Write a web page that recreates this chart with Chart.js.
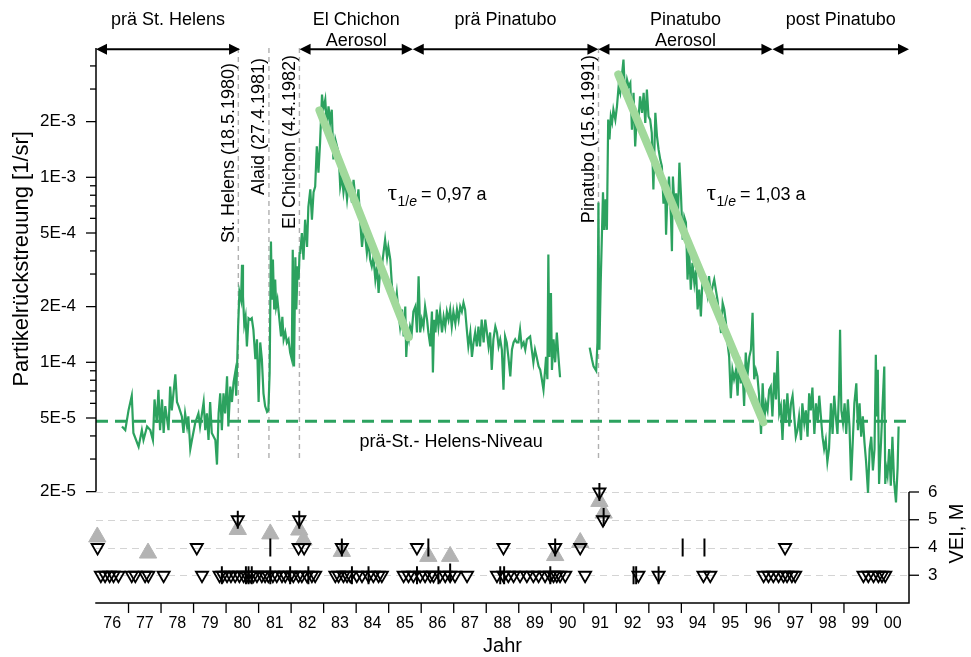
<!DOCTYPE html>
<html>
<head>
<meta charset="utf-8">
<script src="https://cdn.jsdelivr.net/npm/chart.js@4/dist/chart.umd.min.js"></script>
<style>
  html, body { margin: 0; padding: 0; background: #fff; }
  canvas { display: block; }
</style>
</head>
<body>
<canvas id="chart" width="971" height="657"></canvas>
<script>
// Partikelrückstreuung (Jahr, Wert in 1/sr), nach Perioden getrennt
const praeStHelens = [
  [1976.80,4.5e-5],[1976.90,4.3e-5],[1977.00,5.5e-5],[1977.10,6.6e-5],[1977.15,4.15e-5],[1977.31,3.5e-5],
  [1977.41,4.3e-5],[1977.46,3.8e-5],[1977.57,4.5e-5],[1977.67,4.3e-5],[1977.75,3.8e-5],[1977.80,6.3e-5],
  [1977.87,4.7e-5],[1977.92,7.1e-5],[1977.97,4.3e-5],[1978.03,6.3e-5],[1978.08,4.15e-5],[1978.13,5.8e-5],
  [1978.23,4.3e-5],[1978.28,7.4e-5],[1978.33,5.5e-5],[1978.44,8.6e-5],[1978.49,6.1e-5],[1978.54,5.8e-5],
  [1978.64,5.1e-5],[1978.69,4.15e-5],[1978.74,5.3e-5],[1978.80,4.5e-5],[1978.84,5.1e-5],[1978.90,3.4e-5],
  [1978.95,3.8e-5],[1979.05,4.7e-5],[1979.15,5.3e-5],[1979.20,4.5e-5],[1979.31,6.1e-5],[1979.36,4.3e-5],
  [1979.41,5.3e-5],[1979.46,3.8e-5],[1979.51,6.1e-5],[1979.56,4.15e-5],[1979.67,3.8e-5],[1979.72,2.8e-5],
  [1979.77,5.3e-5],[1979.82,6.8e-5],[1979.87,4.3e-5],[1979.92,6.8e-5],[1979.97,5.3e-5],[1980.03,8.4e-5],
  [1980.07,4.5e-5],[1980.13,7.4e-5],[1980.18,6.1e-5],[1980.23,7.8e-5],[1980.28,8.8e-5],[1980.31,6.6e-5],
  [1980.34,9.7e-5]
];
const stHelensAlaid = [
  [1980.37,1.55e-4],[1980.41,2.4e-4],[1980.46,2.18e-4],[1980.49,3.37e-4],[1980.52,2.27e-4],[1980.56,1.6e-4],
  [1980.60,1.76e-4],[1980.64,1.22e-4],[1980.69,1.73e-4],[1980.74,1.70e-4],[1980.79,1.73e-4],[1980.84,1.50e-4],
  [1980.90,1.04e-4],[1980.95,1.33e-4],[1981.00,6.1e-5],[1981.05,1.28e-4],[1981.10,1.04e-4],[1981.15,6.8e-5],
  [1981.20,5.8e-5],[1981.26,5.4e-5],[1981.30,5.5e-5],[1981.34,8.8e-5],[1981.38,4.5e-4],[1981.41,2.18e-4],
  [1981.44,3.59e-4],[1981.48,1.93e-4],[1981.51,2.8e-4],[1981.54,2.0e-4],[1981.58,2.18e-4],[1981.64,1.70e-4],
  [1981.69,1.38e-4],[1981.73,1.76e-4],[1981.77,1.33e-4],[1981.82,1.45e-4],[1981.87,1.28e-4],[1981.92,1.33e-4],
  [1981.97,1.13e-4],[1982.02,1.04e-4],[1982.05,4.06e-4],[1982.09,9.5e-5],[1982.13,3.7e-4],[1982.16,1.93e-4],
  [1982.20,3.3e-4],[1982.23,2.8e-4],[1982.26,3.9e-4]
];
const elChichon = [
  [1982.28,3.9e-4],[1982.33,5.0e-4],[1982.38,3.59e-4],[1982.43,5.9e-4],[1982.49,4.2e-4],[1982.53,6.9e-4],
  [1982.59,8.6e-4],[1982.64,5.9e-4],[1982.69,8.3e-4],[1982.74,8.9e-4],[1982.79,1.47e-3],[1982.84,1.06e-3],
  [1982.89,1.54e-3],[1982.95,2.8e-3],[1982.99,2.32e-3],[1983.05,2.63e-3],[1983.10,1.89e-3],[1983.15,2.42e-3],
  [1983.20,1.98e-3],[1983.25,2.32e-3],[1983.30,1.25e-3],[1983.36,1.60e-3],[1983.41,1.47e-3],[1983.46,1.36e-3],
  [1983.51,8.9e-4],[1983.56,1.01e-3],[1983.61,8.3e-4],[1983.66,9.7e-4],[1983.72,7.6e-4],[1983.76,8.9e-4],
  [1983.82,8.6e-4],[1983.87,7.3e-4],[1983.92,9.7e-4],[1983.97,7.9e-4],[1984.02,7.0e-4],[1984.07,8.6e-4],
  [1984.12,5.9e-4],[1984.18,4.2e-4],[1984.23,5.2e-4],[1984.28,4.8e-4],[1984.33,3.9e-4],[1984.38,4.6e-4],
  [1984.43,3.59e-4],[1984.48,3.3e-4],[1984.53,3.7e-4],[1984.59,2.8e-4],[1984.64,3.3e-4],[1984.69,2.37e-4],
  [1984.74,3.17e-4],[1984.79,3.3e-4],[1984.84,3.9e-4],[1984.89,4.6e-4],[1984.95,3.7e-4],[1984.99,4.2e-4],
  [1985.05,3.59e-4],[1985.10,2.6e-4],[1985.15,2.18e-4],[1985.20,2.0e-4],[1985.25,2.37e-4],[1985.30,1.88e-4],
  [1985.35,1.56e-4],[1985.41,1.93e-4],[1985.46,1.38e-4],[1985.51,2.0e-4],[1985.54,1.07e-4],[1985.58,1.45e-4],
  [1985.62,1.33e-4]
];
const praePinatubo = [
  [1985.66,1.56e-4],[1985.71,1.45e-4],[1985.76,1.88e-4],[1985.82,2.0e-4],[1985.87,1.45e-4],[1985.92,2.92e-4],
  [1985.97,1.45e-4],[1986.02,1.70e-4],[1986.07,1.56e-4],[1986.12,2.0e-4],[1986.18,1.70e-4],[1986.22,1.45e-4],
  [1986.28,1.22e-4],[1986.33,1.88e-4],[1986.36,8.8e-5],[1986.40,1.70e-4],[1986.44,1.45e-4],[1986.48,1.93e-4],
  [1986.53,1.56e-4],[1986.58,1.88e-4],[1986.64,1.45e-4],[1986.69,1.76e-4],[1986.74,1.56e-4],[1986.79,1.88e-4],
  [1986.84,1.70e-4],[1986.89,1.93e-4],[1986.94,1.56e-4],[1986.99,1.88e-4],[1987.05,1.62e-4],[1987.10,1.93e-4],
  [1987.15,1.70e-4],[1987.20,2.0e-4],[1987.25,1.88e-4],[1987.30,2.1e-4],[1987.35,1.93e-4],[1987.41,1.45e-4],
  [1987.45,1.22e-4],[1987.51,1.45e-4],[1987.56,1.07e-4],[1987.61,1.28e-4],[1987.66,1.45e-4],[1987.71,1.22e-4],
  [1987.76,1.56e-4],[1987.81,1.22e-4],[1987.86,1.7e-4],[1987.92,1.28e-4],[1987.97,1.70e-4],[1988.02,1.45e-4],
  [1988.07,1.22e-4],[1988.12,1.45e-4],[1988.17,9.1e-5],[1988.22,1.33e-4],[1988.28,1.56e-4],[1988.33,1.45e-4],
  [1988.38,1.22e-4],[1988.43,1.33e-4],[1988.48,1.17e-4],[1988.53,7.1e-5],[1988.58,1.38e-4],[1988.63,1.28e-4],
  [1988.68,1.07e-4],[1988.74,8.4e-5],[1988.79,1.17e-4],[1988.84,1.28e-4],[1988.89,1.33e-4],[1988.94,1.28e-4],
  [1988.99,1.28e-4],[1989.04,1.50e-4],[1989.09,1.22e-4],[1989.15,1.28e-4],[1989.20,1.17e-4],[1989.25,1.33e-4],
  [1989.35,1.38e-4],[1989.40,1.17e-4],[1989.45,1.0e-4],[1989.50,1.17e-4],[1989.55,1.07e-4],[1989.61,9.5e-5],
  [1989.66,9.1e-5],[1989.71,8.1e-5],[1989.76,7.1e-5],[1989.81,9.1e-5],[1989.84,1.07e-4],[1989.88,8.1e-5],
  [1989.91,3.82e-4],[1989.94,1.07e-4],[1989.99,2.37e-4],[1990.02,9.1e-5],[1990.07,1.33e-4],[1990.12,1.0e-4],
  [1990.17,1.45e-4],[1990.22,1.07e-4],[1990.27,8.3e-5]
];
const pinatubo = [
  [1991.18,1.2e-4],[1991.25,1.04e-4],[1991.30,9.5e-5],[1991.38,9.0e-5],[1991.42,1.28e-4],[1991.45,7.3e-4],
  [1991.48,1.17e-4],[1991.52,2.7e-4],[1991.59,8.3e-4],[1991.63,5.2e-4],[1991.67,7.6e-4],[1991.71,5.2e-4],
  [1991.75,2.05e-3],[1991.79,1.60e-3],[1991.83,2.13e-3],[1991.87,1.98e-3],[1991.91,2.32e-3],[1991.97,2.05e-3],
  [1992.02,2.42e-3],[1992.07,3.10e-3],[1992.12,2.86e-3],[1992.17,3.51e-3],[1992.22,4.33e-3],[1992.27,2.74e-3],
  [1992.33,3.37e-3],[1992.38,3.10e-3],[1992.43,3.24e-3],[1992.48,1.81e-3],[1992.53,2.86e-3],[1992.58,1.47e-3],
  [1992.63,2.13e-3],[1992.68,2.05e-3],[1992.73,2.74e-3],[1992.79,2.23e-3],[1992.84,2.86e-3],[1992.89,1.97e-3],
  [1992.94,2.98e-3],[1992.99,2.13e-3],[1993.04,2.05e-3],[1993.09,1.74e-3],[1993.14,8.6e-4],[1993.20,2.23e-3],
  [1993.25,1.67e-3],[1993.30,1.41e-3],[1993.35,1.25e-3],[1993.40,1.15e-3],[1993.45,7.2e-4],[1993.50,9.3e-4],
  [1993.53,4.9e-4],[1993.57,7.9e-4],[1993.62,1.01e-3],[1993.68,6.1e-4],[1993.71,3.99e-4],[1993.74,1.01e-3],
  [1993.79,6.9e-4],[1993.84,8.2e-4],[1993.89,5.7e-4],[1993.94,1.20e-3],[1993.99,7.9e-4],[1994.04,4.6e-4],
  [1994.09,6.1e-4],[1994.14,5.7e-4],[1994.19,2.8e-4],[1994.24,4.06e-4],[1994.29,2.47e-4],[1994.34,3.45e-4],
  [1994.40,2.67e-4],[1994.45,3.17e-4],[1994.50,1.93e-4],[1994.55,2.47e-4],[1994.60,1.77e-4],[1994.65,2.8e-4],
  [1994.70,2.67e-4],[1994.75,2.8e-4],[1994.80,2.36e-4],[1994.85,2.92e-4],[1994.91,2.27e-4],[1994.96,2.58e-4],
  [1995.01,2.8e-4],[1995.06,2.47e-4],[1995.11,2.18e-4],[1995.16,1.77e-4],[1995.22,1.44e-4],[1995.27,2.09e-4],
  [1995.32,1.93e-4],[1995.37,1.64e-4],[1995.42,1.27e-4],[1995.47,1.07e-4],[1995.52,6.4e-5],[1995.57,9.1e-5],
  [1995.62,8.1e-5],[1995.68,9.1e-5],[1995.73,6.6e-5],[1995.78,1.07e-4],[1995.83,7.7e-5],[1995.88,9.1e-5],
  [1995.93,5.8e-5],[1995.98,1.13e-4],[1996.03,8.4e-5],[1996.09,1.07e-4],[1996.14,1.17e-4],[1996.19,1.85e-4],
  [1996.24,8.1e-5],[1996.29,9.1e-5],[1996.34,8.4e-5],[1996.39,6.6e-5],[1996.45,4.1e-5],[1996.50,7.7e-5],
  [1996.55,4.9e-5]
];
const postPinatubo = [
  [1996.60,6.0e-5],[1996.65,5.5e-5],[1996.70,7.1e-5],[1996.75,7.4e-5],[1996.80,5.1e-5],[1996.86,8.8e-5],
  [1996.91,6.3e-5],[1996.96,1.15e-4],[1997.01,5.3e-5],[1997.06,5.8e-5],[1997.11,3.8e-5],[1997.16,6.3e-5],
  [1997.21,4.7e-5],[1997.26,6.8e-5],[1997.32,4.5e-5],[1997.37,6.0e-5],[1997.42,6.6e-5],[1997.47,5.1e-5],
  [1997.52,3.96e-5],[1997.57,4.3e-5],[1997.62,5.1e-5],[1997.68,3.8e-5],[1997.72,6.0e-5],[1997.78,4.7e-5],
  [1997.83,5.5e-5],[1997.88,3.96e-5],[1997.93,6.8e-5],[1997.98,5.5e-5],[1998.03,7.3e-5],[1998.09,4.1e-5],
  [1998.14,6.0e-5],[1998.19,4.7e-5],[1998.24,6.6e-5],[1998.29,5.1e-5],[1998.34,3.96e-5],[1998.39,3.4e-5],
  [1998.44,3.8e-5],[1998.49,2.9e-5],[1998.54,3.4e-5],[1998.60,6.0e-5],[1998.65,4.1e-5],[1998.70,6.6e-5],
  [1998.75,5.1e-5],[1998.80,4.1e-5],[1998.85,7.1e-5],[1998.88,1.50e-4],[1998.92,5.5e-5],[1998.97,4.7e-5],
  [1999.02,6.0e-5],[1999.07,4.1e-5],[1999.12,6.3e-5],[1999.17,4.5e-5],[1999.22,2.3e-5],[1999.27,3.7e-5],
  [1999.32,6.0e-5],[1999.38,7.7e-5],[1999.43,4.3e-5],[1999.48,6.0e-5],[1999.53,3.96e-5],[1999.58,5.1e-5],
  [1999.63,3.7e-5],[1999.68,2.9e-5],[1999.74,1.97e-5],[1999.79,3.4e-5],[1999.84,3.96e-5],[1999.89,2.6e-5],
  [1999.94,3.4e-5],[1999.98,1.10e-4],[2000.01,5.1e-5],[2000.04,9.1e-5],[2000.08,2.2e-5],[2000.11,2.9e-5],
  [2000.14,3.7e-5],[2000.18,5.5e-5],[2000.24,9.5e-5],[2000.27,2.2e-5],[2000.30,2.7e-5],[2000.34,2.45e-5],
  [2000.39,3.4e-5],[2000.44,2.15e-5],[2000.49,3.96e-5],[2000.54,2.3e-5],[2000.60,1.75e-5],[2000.65,2.7e-5],
  [2000.68,4.5e-5]
];

// Niveau vor dem Ausbruch des St. Helens
const niveau = 4.8e-5;

// Exponentieller Abfall nach El Chichon und Pinatubo
const tauWerte      = [0.97, 1.03];
const fitStartJahr  = [1982.87, 1992.06];
const fitStartWert  = [2.3e-3, 3.6e-3];
const fitEndJahr    = [1985.61, 1996.52];

// Vulkanausbrüche nach VEI-Stufe (Jahr)
const vei3Jahre = [1976.15,1976.28,1976.42,1976.54,1976.69,1977.10,1977.21,1977.51,1977.61,1978.08,1979.26,
  1979.80,1979.90,1980.03,1980.15,1980.28,1980.41,1980.54,1980.64,1980.74,1980.84,1980.95,1981.10,1981.20,
  1981.30,1981.44,1981.56,1981.72,1981.82,1981.97,1982.07,1982.23,1982.33,1982.49,1982.64,1982.74,1983.36,
  1983.46,1983.61,1983.72,1983.82,1984.02,1984.18,1984.38,1984.53,1984.69,1984.79,1985.46,1985.61,1985.76,
  1985.97,1986.12,1986.28,1986.38,1986.58,1986.74,1986.89,1987.04,1987.41,1988.33,1988.53,1988.68,1988.84,
  1989.04,1989.25,1989.45,1989.61,1989.81,1989.97,1990.07,1990.17,1990.27,1990.43,1991.04,1992.68,1993.30,
  1994.68,1994.89,1996.53,1996.68,1996.83,1996.99,1997.14,1997.25,1997.40,1997.50,1999.60,1999.75,1999.91,
  2000.06,2000.17,2000.27];
const vei4Jahre = [1976.05,1979.10,1982.23,1982.40,1983.56,1985.87,1988.53,1990.12,1990.89,1997.19];
const vei5Jahre = [1980.36,1982.25,1991.59];
const vei6Jahre = [1991.48];

// Magnituden M (graue Dreiecke)
const mJahre = [1976.04,1977.60,1980.36,1981.36,1982.25,1982.38,1983.56,1986.22,1986.89,1990.12,1990.89,1991.48,1991.61];
const mWerte = [4.38,3.80,4.65,4.49,4.63,4.27,3.86,3.68,3.68,3.71,4.18,5.66,5.24];

// Weitere Ereignisse (senkrechte Striche)
const strichJahre = [1980.36,1982.25,1981.36,1983.56,1986.22,1990.12,1994.04,1994.71,1991.48,1991.61,
  1979.87,1980.61,1980.69,1980.79,1981.36,1981.97,1982.53,1983.87,1984.38,1985.87,1986.53,1986.89,
  1988.43,1988.55,1989.97,1992.53,1992.61,1993.30];
const strichVEI = [5,5,4,4,4,4,4,4,6,5.1,
  3,3,3,3,3,3,3,3,3,3,3,3.1,
  3,3,3,3,3,3];

// Achsenbeschriftungen
const jahrLabels = ['76','77','78','79','80','81','82','83','84','85','86','87','88','89','90','91','92','93','94','95','96','97','98','99','00'];
const logTickWerte = [2e-3, 1e-3, 5e-4, 2e-4, 1e-4, 5e-5, 2e-5];
const logTickLabels = ['2E-3','1E-3','5E-4','2E-4','1E-4','5E-5','2E-5'];
const veiTicks = [3, 4, 5, 6];

// Ereignisse und Perioden
const ereignisJahre = [1980.377, 1981.318, 1982.255, 1991.452];
const ereignisTexte = ['St. Helens (18.5.1980)', 'Alaid (27.4.1981)', 'El Chichon (4.4.1982)', 'Pinatubo (15.6.1991)'];
const ereignisOben  = [63, 58, 55, 55];
const phasenStart = [1976.0, 1982.26, 1985.74, 1991.45, 1996.80];
const phasenEnde  = [1980.43, 1985.74, 1991.45, 1996.80, 2001.0];
const phasenTexte = [['prä St. Helens'], ['El Chichon', 'Aerosol'], ['prä Pinatubo'], ['Pinatubo', 'Aerosol'], ['post Pinatubo']];

const yMin = 5e-6, yMax = 5e-3;
const FONT = "'Liberation Sans', Arial, Helvetica, sans-serif";
const GRUEN = '#2ca25f';
const HELLGRUEN = '#a1d99b';

const pts = arr => arr.map(([x, y]) => ({ x, y }));
const reihe = [...praeStHelens, ...stHelensAlaid, ...elChichon, ...praePinatubo, [1990.75, null], ...pinatubo, ...postPinatubo];

const fitLinie = i => {
  const v1 = fitStartWert[i] * Math.exp(-(fitEndJahr[i] - fitStartJahr[i]) / tauWerte[i]);
  return [{ x: fitStartJahr[i], y: fitStartWert[i] }, { x: fitEndJahr[i], y: v1 }];
};

const dreieckOffen = (jahre, stufe) => jahre.map(j => ({ x: j, y: stufe }));

const rahmen = {
  id: 'rahmen',
  beforeDatasetsDraw(chart) {
    const { ctx, chartArea: ca, scales: { x, y, y2 } } = chart;
    ctx.save();
    ctx.lineWidth = 1.2;
    ctx.strokeStyle = '#d4d4d4';
    ctx.setLineDash([7, 5]);
    veiTicks.forEach(v => {
      const yy = Math.round(y2.getPixelForValue(v)) + 0.5;
      ctx.beginPath(); ctx.moveTo(ca.left, yy); ctx.lineTo(ca.right, yy); ctx.stroke();
    });
    ctx.strokeStyle = '#b0b0b0';
    ctx.lineWidth = 1.4;
    ctx.setLineDash([5, 4]);
    ereignisJahre.forEach(j => {
      const xx = x.getPixelForValue(j);
      ctx.beginPath(); ctx.moveTo(xx, y.getPixelForValue(yMax)); ctx.lineTo(xx, y.getPixelForValue(3e-5)); ctx.stroke();
    });
    ctx.restore();
  },
  afterDraw(chart) {
    const { ctx, chartArea: ca, scales: { x, y, y2 } } = chart;
    ctx.save();
    ctx.setLineDash([]);
    ctx.strokeStyle = '#000';
    ctx.fillStyle = '#000';

    // Achsenlinien
    const yTop = y.getPixelForValue(yMax);
    const yLogUnten = y.getPixelForValue(logTickWerte[logTickWerte.length - 1]);
    const yVeiOben = y2.getPixelForValue(veiTicks[veiTicks.length - 1]);
    ctx.lineWidth = 1.5;
    ctx.beginPath();
    ctx.moveTo(ca.left, yTop); ctx.lineTo(ca.left, yLogUnten);
    ctx.moveTo(ca.left - 0.75, ca.bottom); ctx.lineTo(ca.right + 0.75, ca.bottom);
    ctx.moveTo(ca.right, yVeiOben); ctx.lineTo(ca.right, ca.bottom);
    ctx.stroke();

    // Teilstriche links (logarithmisch)
    ctx.lineWidth = 1.3;
    for (let e = -5; e <= -3; e++) {
      for (let m = 1; m <= 9; m++) {
        const v = m * Math.pow(10, e);
        if (v < 2e-5 * 0.999 || v > 4e-3 * 1.001) continue;
        const yy = y.getPixelForValue(v);
        const len = (m === 1 || m === 2 || m === 5) ? 10 : 6;
        ctx.beginPath(); ctx.moveTo(ca.left - len, yy); ctx.lineTo(ca.left, yy); ctx.stroke();
      }
    }
    // Teilstriche unten (Jahresgrenzen)
    for (let j = 1977; j <= 2000; j++) {
      const xx = x.getPixelForValue(j);
      ctx.beginPath(); ctx.moveTo(xx, ca.bottom); ctx.lineTo(xx, ca.bottom + 10); ctx.stroke();
    }
    // Teilstriche rechts (VEI)
    veiTicks.forEach(v => {
      const yy = y2.getPixelForValue(v);
      ctx.beginPath(); ctx.moveTo(ca.right, yy); ctx.lineTo(ca.right + 10, yy); ctx.stroke();
    });

    // Perioden-Pfeile
    const yPfeil = yTop + 1.3;
    const spitze = (xt, dir) => {
      ctx.beginPath();
      ctx.moveTo(xt, yPfeil);
      ctx.lineTo(xt - dir * 11, yPfeil - 5.5);
      ctx.lineTo(xt - dir * 11, yPfeil + 5.5);
      ctx.closePath(); ctx.fill();
    };
    ctx.lineWidth = 2;
    ctx.font = '18px ' + FONT;
    ctx.textAlign = 'center';
    ctx.textBaseline = 'alphabetic';
    phasenStart.forEach((s, i) => {
      const x1 = x.getPixelForValue(s), x2 = x.getPixelForValue(phasenEnde[i]);
      ctx.beginPath(); ctx.moveTo(x1 + 4, yPfeil); ctx.lineTo(x2 - 4, yPfeil); ctx.stroke();
      spitze(x1, -1); spitze(x2, 1);
      const xm = (x1 + x2) / 2;
      phasenTexte[i].forEach((t, k) => ctx.fillText(t, xm, 25 + k * 21));
    });

    // Beschriftung der Ausbrüche (senkrecht)
    ctx.font = '18px ' + FONT;
    ereignisJahre.forEach((j, i) => {
      const xx = x.getPixelForValue(j);
      ctx.save();
      ctx.translate(xx - 4.5, ereignisOben[i]);
      ctx.rotate(-Math.PI / 2);
      ctx.textAlign = 'right';
      ctx.textBaseline = 'alphabetic';
      ctx.fillText(ereignisTexte[i], 0, 0);
      ctx.restore();
    });

    // Abklingzeiten
    const tauLabelJahre = [1984.96, 1994.77];
    const tauLabelWert = 7.5e-4;
    tauWerte.forEach((tau, i) => {
      const x0 = x.getPixelForValue(tauLabelJahre[i]);
      const yb = y.getPixelForValue(tauLabelWert);
      ctx.textAlign = 'left';
      ctx.font = "24px 'Liberation Serif', 'DejaVu Serif', serif";
      ctx.fillText('τ', x0, yb);
      let xs = x0 + ctx.measureText('τ').width + 0.5;
      ctx.font = '14px ' + FONT;
      ctx.fillText('1/', xs, yb + 6);
      xs += ctx.measureText('1/').width;
      ctx.font = 'italic 14px ' + FONT;
      ctx.fillText('e', xs, yb + 6);
      xs += ctx.measureText('e').width + 4;
      ctx.font = '18px ' + FONT;
      ctx.fillText('= ' + tau.toFixed(2).replace('.', ',') + ' a', xs, yb);
    });

    // Niveau-Beschriftung
    ctx.textAlign = 'center';
    ctx.font = '18px ' + FONT;
    ctx.fillText('prä-St.- Helens-Niveau', x.getPixelForValue(1986.92), y.getPixelForValue(3.5e-5));

    // Achsentitel
    ctx.font = '20px ' + FONT;
    ctx.fillText('Jahr', x.getPixelForValue(1988.5), 652);
    ctx.font = '22px ' + FONT;
    ctx.save();
    ctx.translate(28, (yTop + yLogUnten) / 2 - 11);
    ctx.rotate(-Math.PI / 2);
    ctx.fillText('Partikelrückstreuung [1/sr]', 0, 0);
    ctx.restore();
    ctx.font = '20px ' + FONT;
    ctx.save();
    ctx.translate(963, (yVeiOben + ca.bottom) / 2 - 14);
    ctx.rotate(-Math.PI / 2);
    ctx.fillText('VEI, M', 0, 0);
    ctx.restore();

    ctx.restore();
  }
};

Chart.defaults.font.family = FONT;
Chart.defaults.color = '#000';

new Chart(document.getElementById('chart'), {
  type: 'scatter',
  data: {
    datasets: [
      {
        label: 'Striche',
        data: strichJahre.map((j, i) => ({ x: j, y: strichVEI[i] })),
        yAxisID: 'y2', pointStyle: 'line', rotation: 90,
        pointRadius: 9, pointHoverRadius: 9, borderColor: '#000', borderWidth: 2,
        clip: false, order: 0
      },
      {
        label: 'VEI',
        data: [...dreieckOffen(vei3Jahre, 3), ...dreieckOffen(vei4Jahre, 4), ...dreieckOffen(vei5Jahre, 5), ...dreieckOffen(vei6Jahre, 6)],
        yAxisID: 'y2', pointStyle: 'triangle', rotation: 180,
        pointRadius: 7, pointHoverRadius: 7, backgroundColor: 'rgba(0,0,0,0)', borderColor: '#000', borderWidth: 1.8,
        clip: false, order: 1
      },
      {
        label: 'M',
        data: mJahre.map((j, i) => ({ x: j, y: mWerte[i] })),
        yAxisID: 'y2', pointStyle: 'triangle',
        pointRadius: 10, pointHoverRadius: 10, backgroundColor: '#b3b3b3', borderColor: '#b3b3b3', borderWidth: 1,
        clip: false, order: 2
      },
      {
        label: 'Fit El Chichon', data: fitLinie(0), yAxisID: 'y', showLine: true,
        borderColor: HELLGRUEN, borderWidth: 8, pointRadius: 0, borderCapStyle: 'round', order: 3
      },
      {
        label: 'Fit Pinatubo', data: fitLinie(1), yAxisID: 'y', showLine: true,
        borderColor: HELLGRUEN, borderWidth: 8, pointRadius: 0, borderCapStyle: 'round', order: 3
      },
      {
        label: 'Rückstreuung', data: pts(reihe), yAxisID: 'y', showLine: true, spanGaps: false,
        borderColor: GRUEN, borderWidth: 2.2, pointRadius: 0, tension: 0, order: 4
      },
      {
        label: 'Niveau', data: [{ x: 1976.0, y: niveau }, { x: 2000.95, y: niveau }], yAxisID: 'y', showLine: true,
        borderColor: GRUEN, borderWidth: 3, borderDash: [12, 7], pointRadius: 0, order: 5
      }
    ]
  },
  options: {
    responsive: false,
    devicePixelRatio: 1,
    animation: false,
    events: [],
    layout: { padding: { top: 48, left: 0, right: 0, bottom: 0 } },
    plugins: { legend: { display: false }, tooltip: { enabled: false } },
    scales: {
      x: {
        type: 'linear', position: 'bottom', min: 1976, max: 2001,
        grid: { display: false, drawTicks: false }, border: { display: false },
        afterBuildTicks: s => { s.ticks = jahrLabels.map((_, i) => ({ value: 1976.5 + i })); },
        afterFit: s => { s.height = 54; },
        ticks: { autoSkip: false, maxRotation: 0, minRotation: 0, padding: 11, font: { size: 16 },
                 callback: (v, i) => jahrLabels[i] }
      },
      y: {
        type: 'logarithmic', position: 'left', min: yMin, max: yMax,
        grid: { display: false, drawTicks: false }, border: { display: false },
        afterBuildTicks: s => { s.ticks = logTickWerte.map(v => ({ value: v })); },
        afterFit: s => { s.width = 96; },
        ticks: { autoSkip: false, padding: 20, font: { size: 17 },
                 callback: v => { const i = logTickWerte.findIndex(t => Math.abs(t - v) / t < 1e-6); return i >= 0 ? logTickLabels[i] : ''; } }
      },
      y2: {
        type: 'linear', position: 'right', min: 2, max: 22,
        grid: { display: false, drawTicks: false }, border: { display: false },
        afterBuildTicks: s => { s.ticks = veiTicks.map(v => ({ value: v })); },
        afterFit: s => { s.width = 62; },
        ticks: { autoSkip: false, padding: 19, font: { size: 17 }, callback: v => String(v) }
      }
    }
  },
  plugins: [rahmen]
});
</script>
</body>
</html>
